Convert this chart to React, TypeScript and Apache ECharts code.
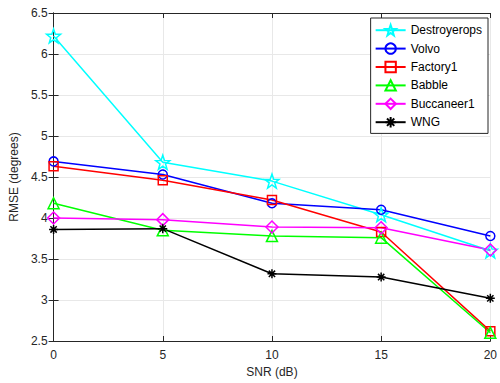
import React, { useEffect, useRef } from "react";
import * as echarts from "echarts";

const snr = [0, 5, 10, 15, 20];
const destroyerops = [6.22, 4.68, 4.45, 4.04, 3.6];
const volvo = [4.69, 4.53, 4.18, 4.1, 3.78];
const factory1 = [4.63, 4.46, 4.22, 3.83, 2.62];
const babble = [4.18, 3.85, 3.78, 3.76, 2.6];
const buccaneer1 = [4.0, 3.98, 3.89, 3.88, 3.61];
const wng = [3.86, 3.87, 3.32, 3.28, 3.02];

const STAR =
  "path://M0,-10L2.35,-3.24L9.51,-3.09L3.8,1.24L5.88,8.09L0,4L-5.88,8.09L-3.8,1.24L-9.51,-3.09L-2.35,-3.24Z";
const ASTER =
  "path://M0,-10L0,10M-10,0L10,0M-7,-7L7,7M-7,7L7,-7";

const seriesDefs = [
  { name: "Destroyerops", data: destroyerops, color: "#00FFFF", symbol: STAR, size: 14 },
  { name: "Volvo", data: volvo, color: "#0000FF", symbol: "circle", size: 9 },
  { name: "Factory1", data: factory1, color: "#FF0000", symbol: "rect", size: 9 },
  { name: "Babble", data: babble, color: "#00FF00", symbol: "triangle", size: 11 },
  { name: "Buccaneer1", data: buccaneer1, color: "#FF00FF", symbol: "diamond", size: 12 },
  { name: "WNG", data: wng, color: "#000000", symbol: ASTER, size: 9 },
];

export default function App() {
  const ref = useRef<HTMLDivElement>(null);
  useEffect(() => {
    if (!ref.current) return;
    const chart = echarts.init(ref.current, null, { renderer: "svg" });
    const font = "Liberation Sans, Arial, sans-serif";
    const axisLine = { show: true, lineStyle: { color: "#262626", width: 1 } };
    chart.setOption({
      animation: false,
      backgroundColor: "#ffffff",
      textStyle: { fontFamily: font },
      grid: { left: 51, right: 9, top: 13, bottom: 42 },
      legend: {
        orient: "vertical",
        right: 12,
        top: 18,
        backgroundColor: "#ffffff",
        borderColor: "#262626",
        borderWidth: 1,
        borderRadius: 0,
        padding: [6, 6, 5, 4],
        itemGap: 6,
        itemWidth: 30,
        itemHeight: 13,
        textStyle: { fontSize: 12, color: "#000", fontFamily: font },
        data: seriesDefs.map((s) => s.name),
      },
      xAxis: [
        {
          type: "value",
          min: 0,
          max: 20,
          interval: 5,
          name: "SNR (dB)",
          nameLocation: "middle",
          nameGap: 23,
          nameTextStyle: { fontSize: 12, color: "#262626" },
          axisLine,
          axisTick: { show: true, inside: true, length: 5, lineStyle: { color: "#262626" } },
          axisLabel: { fontSize: 12, color: "#262626", margin: 8 },
          splitLine: { show: true, lineStyle: { color: "#e8e8e8", width: 1 } },
        },
        {
          type: "value",
          position: "top",
          min: 0,
          max: 20,
          interval: 5,
          axisLine,
          axisTick: { show: true, inside: true, length: 5, lineStyle: { color: "#262626" } },
          axisLabel: { show: false },
          splitLine: { show: false },
        },
      ],
      yAxis: [
        {
          type: "value",
          min: 2.5,
          max: 6.5,
          interval: 0.5,
          name: "RMSE (degrees)",
          nameLocation: "middle",
          nameGap: 32,
          nameTextStyle: { fontSize: 12, color: "#262626" },
          axisLine,
          axisTick: { show: true, inside: true, length: 5, lineStyle: { color: "#262626" } },
          axisLabel: { fontSize: 12, color: "#262626", margin: 6 },
          splitLine: { show: true, lineStyle: { color: "#e8e8e8", width: 1 } },
        },
        {
          type: "value",
          position: "right",
          min: 2.5,
          max: 6.5,
          interval: 0.5,
          axisLine,
          axisTick: { show: true, inside: true, length: 5, lineStyle: { color: "#262626" } },
          axisLabel: { show: false },
          splitLine: { show: false },
        },
      ],
      series: seriesDefs.map((s) => ({
        name: s.name,
        type: "line",
        xAxisIndex: 0,
        yAxisIndex: 0,
        data: snr.map((x, i) => [x, s.data[i]]),
        symbol: s.symbol,
        symbolSize: s.size,
        showAllSymbol: true,
        lineStyle: { color: s.color, width: 1.5 },
        itemStyle: {
          color: s.name === "WNG" ? "#000" : "rgba(255,255,255,0)",
          borderColor: s.color,
          borderWidth: 1.5,
        },
        z: 3,
      })),
    });
    return () => chart.dispose();
  }, []);
  return (
    <div
      ref={ref}
      style={{ position: "fixed", left: 0, top: 0, width: 500, height: 383 }}
    />
  );
}
